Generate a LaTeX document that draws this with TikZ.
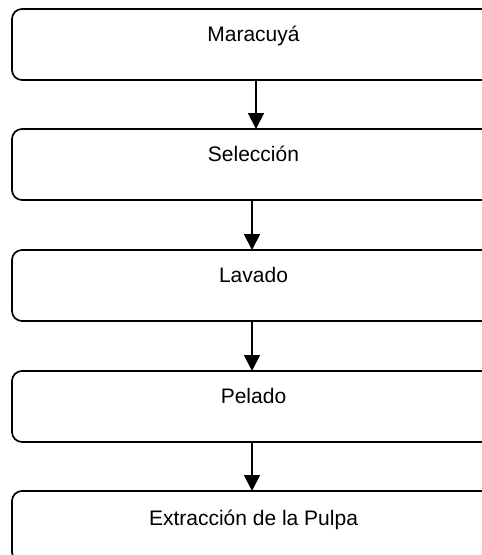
\documentclass[tikz,border=0pt]{standalone}
\usepackage{fontspec}
\setmainfont{Liberation Sans}
\usetikzlibrary{arrows.meta}
\begin{document}
\begin{tikzpicture}[x=1pt,y=-1pt,
  stepbox/.style={draw=black, line width=1.7pt, rounded corners=10pt, rectangle,
    minimum width=483pt, minimum height=71pt, inner sep=0pt, outer sep=0pt,
    text height=32pt, text depth=39pt, font=\fontsize{21pt}{24pt}\selectfont},
  arr/.style={line width=1.8pt, -{Triangle[length=16pt,width=16pt]}}]
\useasboundingbox (0,0) rectangle (482,555);
\clip (0,0) rectangle (482,555);
\node[stepbox] (b1) at (253.5,44.5) {Maracuyá};
\node[stepbox] (b2) at (253.5,164.5) {Selección};
\node[stepbox] (b3) at (253.5,285.5) {Lavado};
\node[stepbox] (b4) at (253.5,406.5) {Pelado};
\node[stepbox, text height=34pt, text depth=37pt] (b5) at (253.5,526.5) {Extracción de la Pulpa};
\draw[arr] ([xshift=2.5pt]b1.south) -- ([xshift=2.5pt]b2.north);
\draw[arr] ([xshift=-1.5pt]b2.south) -- ([xshift=-1.5pt]b3.north);
\draw[arr] ([xshift=-1.5pt]b3.south) -- ([xshift=-1.5pt]b4.north);
\draw[arr] ([xshift=-1.5pt]b4.south) -- ([xshift=-1.5pt]b5.north);
\end{tikzpicture}
\end{document}
